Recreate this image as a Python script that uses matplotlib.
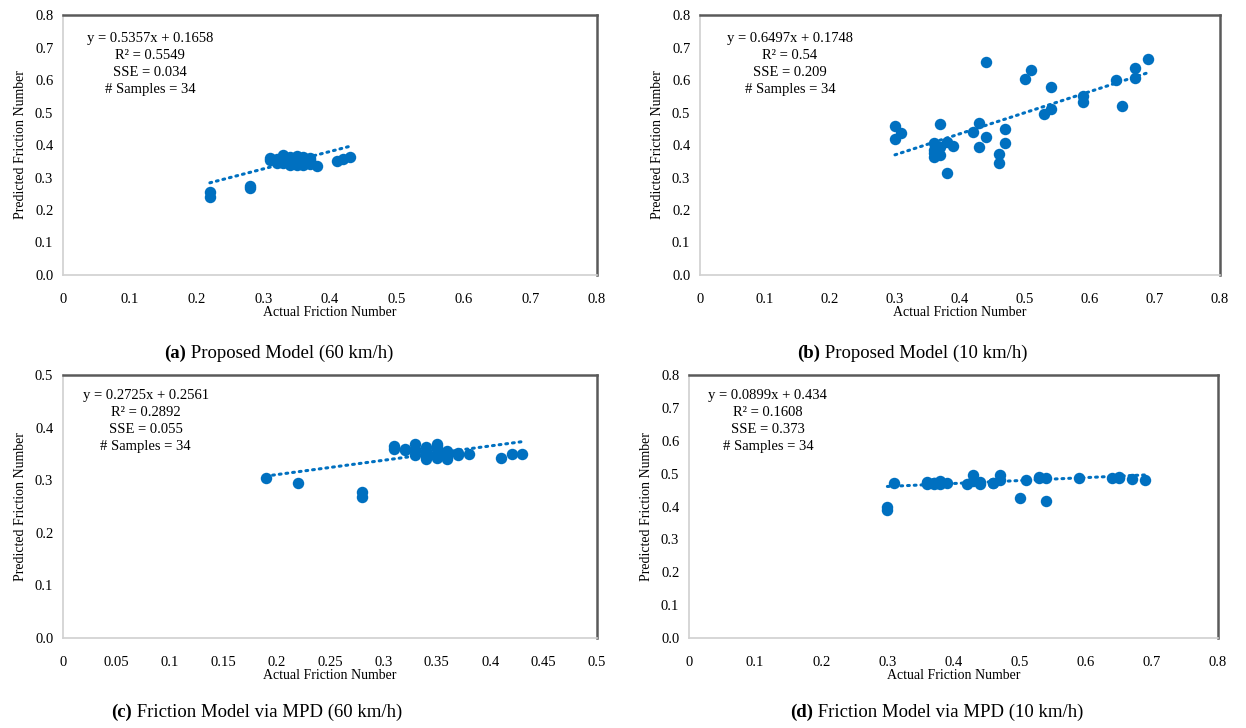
import matplotlib
matplotlib.use('Agg')
import matplotlib.pyplot as plt
import numpy as np

plt.rcParams['font.family'] = ['Liberation Serif', 'DejaVu Serif']

# ---- (a) Proposed model, 60 km/h ----
a_actual = [0.22, 0.22, 0.28, 0.28,
            0.31, 0.31, 0.32, 0.32, 0.32, 0.33, 0.33, 0.33, 0.33,
            0.34, 0.34, 0.34, 0.34, 0.35, 0.35, 0.35, 0.35, 0.35,
            0.36, 0.36, 0.36, 0.36, 0.37, 0.37, 0.37, 0.37, 0.38,
            0.41, 0.42, 0.43]
a_pred = [0.256, 0.241, 0.275, 0.268,
          0.360, 0.355, 0.352, 0.358, 0.345, 0.370, 0.350, 0.360, 0.345,
          0.355, 0.348, 0.362, 0.340, 0.365, 0.350, 0.345, 0.358, 0.340,
          0.362, 0.348, 0.355, 0.340, 0.360, 0.350, 0.343, 0.355, 0.335,
          0.352, 0.356, 0.362]

# ---- (b) Proposed model, 10 km/h ----
b_actual = [0.30, 0.31, 0.30, 0.37, 0.36, 0.36, 0.36, 0.37, 0.37, 0.38,
            0.39, 0.38, 0.42, 0.43, 0.44, 0.44, 0.43, 0.46, 0.46, 0.47,
            0.47, 0.50, 0.51, 0.54, 0.53, 0.54, 0.59, 0.59, 0.64, 0.65,
            0.67, 0.67, 0.69, 0.36]
b_pred = [0.458, 0.438, 0.418, 0.464, 0.405, 0.385, 0.364, 0.395, 0.370, 0.410,
          0.397, 0.315, 0.441, 0.467, 0.656, 0.424, 0.395, 0.372, 0.346, 0.448,
          0.405, 0.602, 0.631, 0.578, 0.495, 0.511, 0.551, 0.533, 0.600, 0.520,
          0.636, 0.605, 0.664, 0.375]

# ---- (c) Friction model via MPD, 60 km/h ----
c_actual = [0.19, 0.22, 0.28, 0.28, 0.31, 0.31, 0.32, 0.33, 0.33, 0.33,
            0.34, 0.34, 0.34, 0.35, 0.35, 0.35, 0.35, 0.36, 0.36, 0.36,
            0.37, 0.38, 0.41, 0.42, 0.43, 0.33, 0.34, 0.35, 0.36, 0.32,
            0.34, 0.35, 0.36, 0.37]
c_pred = [0.305, 0.295, 0.278, 0.269, 0.365, 0.360, 0.357, 0.369, 0.348, 0.360,
          0.3625, 0.346, 0.355, 0.369, 0.352, 0.342, 0.360, 0.356, 0.340, 0.348,
          0.351, 0.350, 0.343, 0.349, 0.350, 0.355, 0.350, 0.347, 0.352, 0.360,
          0.340, 0.365, 0.345, 0.347]

# ---- (d) Friction model via MPD, 10 km/h ----
d_actual = [0.30, 0.30, 0.31, 0.36, 0.36, 0.37, 0.37, 0.38, 0.38, 0.39,
            0.37, 0.42, 0.43, 0.43, 0.44, 0.44, 0.46, 0.47, 0.50, 0.51,
            0.53, 0.54, 0.54, 0.59, 0.64, 0.65, 0.67, 0.69, 0.36, 0.38,
            0.46, 0.47, 0.53, 0.65]
d_pred = [0.400, 0.390, 0.470, 0.473, 0.475, 0.470, 0.473, 0.478, 0.467, 0.473,
          0.468, 0.467, 0.495, 0.478, 0.467, 0.475, 0.473, 0.495, 0.426, 0.482,
          0.487, 0.487, 0.416, 0.487, 0.487, 0.487, 0.485, 0.482, 0.468, 0.472,
          0.470, 0.480, 0.490, 0.490]

# fitted trendlines and stats shown on each panel
fits = {
    'a': (0.5357, 0.1658, '0.5549', '0.034'),
    'b': (0.6497, 0.1748, '0.54', '0.209'),
    'c': (0.2725, 0.2561, '0.2892', '0.055'),
    'd': (0.0899, 0.434, '0.1608', '0.373'),
}
x_ticks_08 = [0, 0.1, 0.2, 0.3, 0.4, 0.5, 0.6, 0.7, 0.8]
x_labels_08 = ['0', '0.1', '0.2', '0.3', '0.4', '0.5', '0.6', '0.7', '0.8']
x_ticks_05 = [0, 0.05, 0.1, 0.15, 0.2, 0.25, 0.3, 0.35, 0.4, 0.45, 0.5]
x_labels_05 = ['0', '0.05', '0.1', '0.15', '0.2', '0.25', '0.3', '0.35', '0.4', '0.45', '0.5']
y_ticks_08 = [0, 0.1, 0.2, 0.3, 0.4, 0.5, 0.6, 0.7, 0.8]
y_ticks_05 = [0, 0.1, 0.2, 0.3, 0.4, 0.5]

blue = '#0070C0'

fig = plt.figure(figsize=(12.46, 7.28), dpi=100)


def panel(rect, xs, ys, key, xt, xl, yt, txt_x, txt_y):
    ax = fig.add_axes(rect)
    slope, icpt, r2, sse = fits[key]
    ax.scatter(xs, ys, s=68, color=blue, zorder=3, linewidths=0)
    xx = np.array([min(xs), max(xs)])
    ax.plot(xx, slope * xx + icpt, color=blue, lw=2.2, ls=(0, (0.6, 1.6)),
            dash_capstyle='round', zorder=2)
    ax.set_xlim(xt[0], xt[-1])
    ax.set_ylim(yt[0], yt[-1])
    ax.set_xticks(xt)
    ax.set_xticklabels(xl)
    ax.set_yticks(yt)
    ax.set_yticklabels([f'{v:.1f}' for v in yt])
    ax.tick_params(length=0, labelsize=10.5)
    ax.tick_params(axis='x', pad=13)
    ax.tick_params(axis='y', pad=7)
    for s in ['left', 'bottom']:
        ax.spines[s].set_color('#d0d0d0')
        ax.spines[s].set_linewidth(1.2)
    for s in ['top', 'right']:
        ax.spines[s].set_color('#5a5a5a')
        ax.spines[s].set_linewidth(1.8)
    ax.set_xlabel('Actual Friction Number', fontsize=10, labelpad=0)
    ax.set_ylabel('Predicted Friction Number', fontsize=10, labelpad=6)
    eq = (f'y = {slope}x + {icpt}\nR² = {r2}\nSSE = {sse}\n# Samples = 34')
    ax.text(txt_x, txt_y, eq, transform=ax.transAxes, ha='center', va='top',
            fontsize=10.5, linespacing=1.4)
    return ax


panel([0.0506, 0.6223, 0.4285, 0.357], a_actual, a_pred, 'a',
      x_ticks_08, x_labels_08, y_ticks_08, 0.163, 0.935)
panel([0.5618, 0.6223, 0.4173, 0.357], b_actual, b_pred, 'b',
      x_ticks_08, x_labels_08, y_ticks_08, 0.173, 0.935)
panel([0.0506, 0.1236, 0.4285, 0.3613], c_actual, c_pred, 'c',
      x_ticks_05, x_labels_05, y_ticks_05, 0.155, 0.945)
panel([0.553, 0.1236, 0.4245, 0.3613], d_actual, d_pred, 'd',
      x_ticks_08, x_labels_08, y_ticks_08, 0.149, 0.945)

# panel captions: bold letter followed by regular title
captions = [
    (0.132, 0.515, '(a)', ' Proposed Model (60 km/h)'),
    (0.640, 0.515, '(b)', ' Proposed Model (10 km/h)'),
    (0.089, 0.022, '(c)', ' Friction Model via MPD (60 km/h)'),
    (0.634, 0.022, '(d)', ' Friction Model via MPD (10 km/h)'),
]
for x, y, tag, title in captions:
    t = fig.text(x, y, tag, fontsize=13.5, fontweight='bold', va='center')
    plt.annotate(title, xy=(1, 0.5), xycoords=t, va='center', ha='left',
                 fontsize=13.5)

fig.savefig('out.png', dpi=100)
